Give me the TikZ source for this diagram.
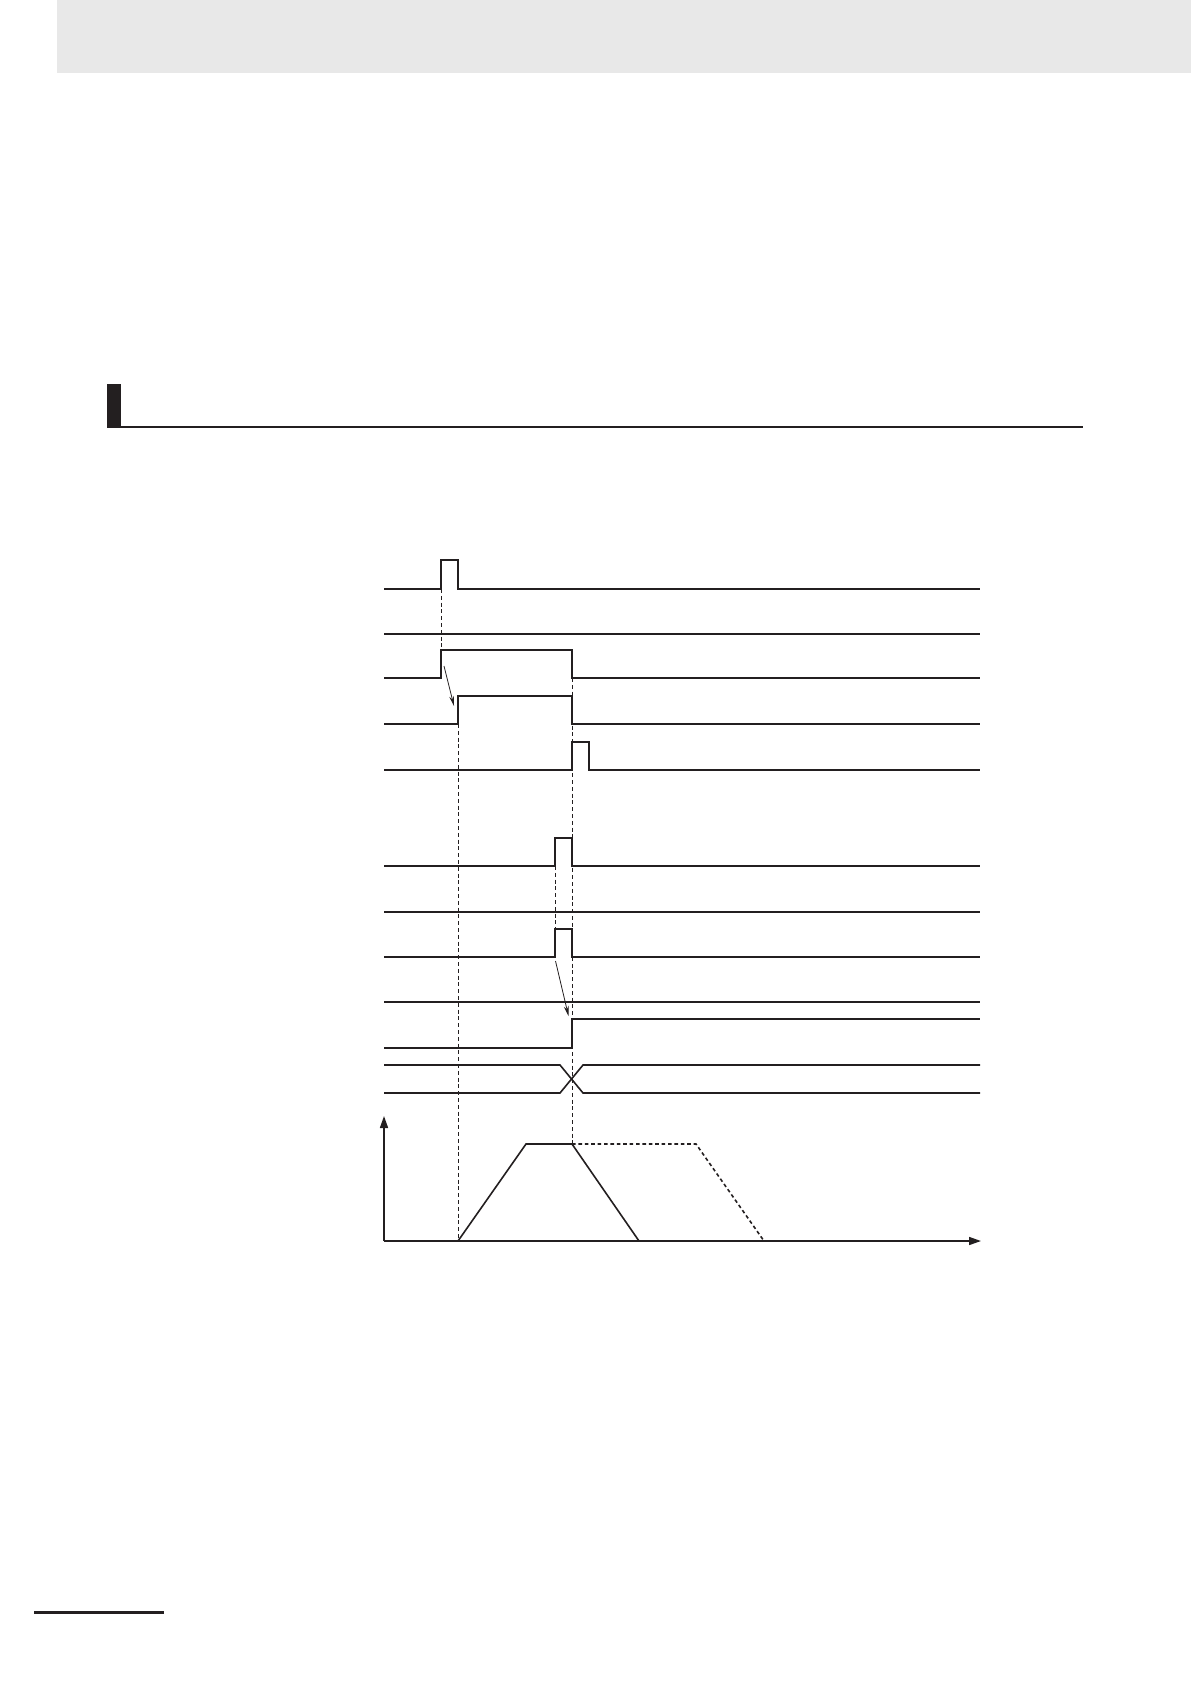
\documentclass[tikz,border=0pt]{standalone}
\usetikzlibrary{arrows.meta}
\definecolor{headgray}{HTML}{E8E8E8}
\definecolor{ink}{HTML}{231F20}
\tikzset{
  sig/.style={draw=ink, line width=0.8pt, line join=miter},
  guide/.style={draw=ink, line width=0.4pt, dash pattern=on 2pt off 1.4pt},
  dotline/.style={draw=ink, line width=0.8pt, dash pattern=on 1.8pt off 1.4pt},
  thinarrow/.style={draw=ink, line width=0.4pt, -{Stealth[length=5pt,width=2.4pt]}},
  axis/.style={draw=ink, line width=0.8pt, -{Triangle[length=6pt,width=4pt]}}
}
\begin{document}
\begin{tikzpicture}[x=0.5pt,y=-0.5pt]
\useasboundingbox (0,0) rectangle (1191,1684);
% header band
\fill[headgray] (57,0) rectangle (1191,73);
% section heading
\fill[ink] (107,384) rectangle (121,428);
\fill[ink] (107,426) rectangle (1083,428.5);
% footer rule
\fill[ink] (34,1611) rectangle (164,1613.5);

% guides (dashed)
\draw[guide] (441,589) -- (441,650);
\draw[guide] (458,724) -- (458,1241);
\draw[guide] (572,678) -- (572,1144);
\draw[guide] (555,866) -- (555,929);

% signal 1
\draw[sig] (384,589) -- (441,589) -- (441,560) -- (458,560) -- (458,589) -- (980,589);
% signal 2
\draw[sig] (384,634) -- (980,634);
% signal 3
\draw[sig] (384,678) -- (441,678) -- (441,650) -- (572,650) -- (572,678) -- (980,678);
% signal 4
\draw[sig] (384,724) -- (458,724) -- (458,696) -- (572,696) -- (572,724) -- (980,724);
% signal 5
\draw[sig] (384,770) -- (572,770) -- (572,742) -- (589,742) -- (589,770) -- (980,770);
% arrow 1
\draw[thinarrow] (444,666) -- (454,706);

% signal 6
\draw[sig] (384,866) -- (555,866) -- (555,838) -- (572,838) -- (572,866) -- (980,866);
% signal 7
\draw[sig] (384,912) -- (980,912);
% signal 8
\draw[sig] (384,957) -- (555,957) -- (555,929) -- (572,929) -- (572,957) -- (980,957);
% signal 9
\draw[sig] (384,1002) -- (980,1002);
% signal 10
\draw[sig] (384,1048) -- (572,1048) -- (572,1019) -- (980,1019);
% arrow 2
\draw[thinarrow] (555.5,961) -- (568.5,1016);
% signal 11 (bus)
\draw[sig] (384,1065) -- (560,1065) -- (583,1093) -- (980,1093);
\draw[sig] (384,1093) -- (560,1093) -- (583,1065) -- (980,1065);

% velocity graph axes
\draw[axis] (384,1241) -- (384,1116);
\draw[axis] (384,1241) -- (981,1241);
% trapezoid
\draw[sig] (458,1241) -- (526,1144) -- (572,1144) -- (639,1241);
\draw[dotline] (572,1144) -- (696,1144) -- (764,1241);
\end{tikzpicture}
\end{document}
